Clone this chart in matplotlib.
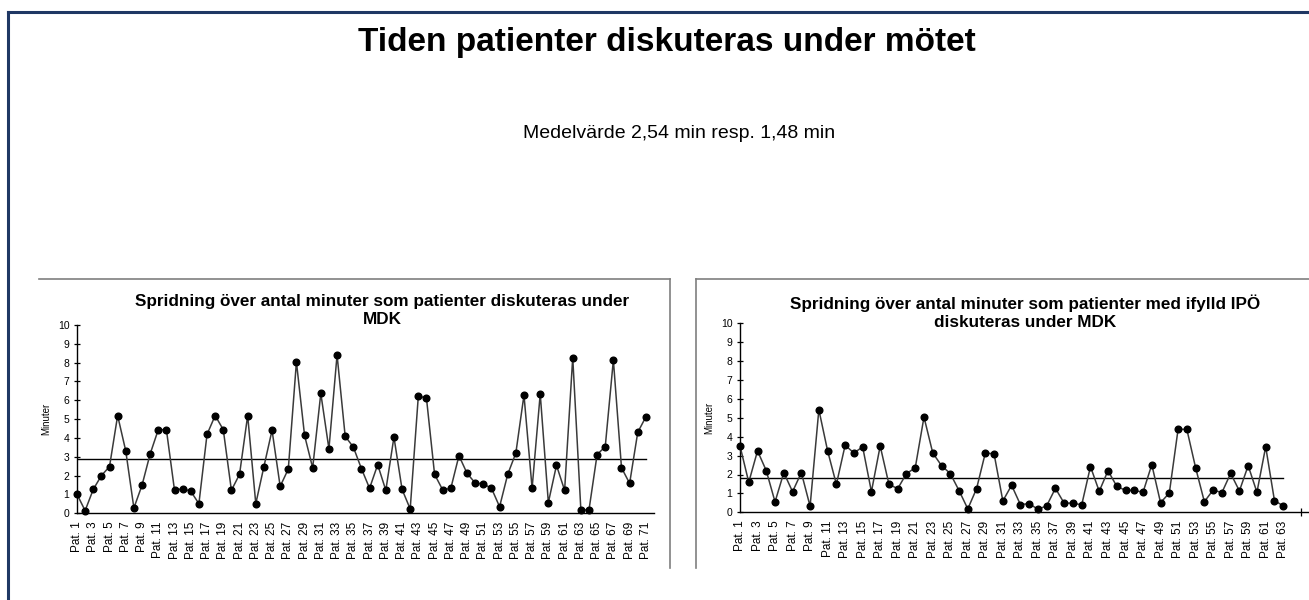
import matplotlib.pyplot as plt
from matplotlib.lines import Line2D

plt.rcParams['font.family'] = ['Liberation Sans', 'DejaVu Sans']

# minutes per patient, all patients (Pat. 1 - Pat. 71)
minutes_all = [1.01, 0.14, 1.27, 2.00, 2.48, 5.19, 3.31, 0.28, 1.49, 3.15,
               4.44, 4.44, 1.22, 1.31, 1.17, 0.51, 4.19, 5.19, 4.44, 1.22,
               2.07, 5.19, 0.51, 2.48, 4.41, 1.43, 2.35, 8.04, 4.14, 2.41,
               6.37, 3.42, 8.41, 4.09, 3.52, 2.37, 1.33, 2.58, 1.22, 4.05,
               1.27, 0.23, 6.23, 6.12, 2.07, 1.24, 1.33, 3.06, 2.12, 1.61,
               1.56, 1.33, 0.35, 2.07, 3.20, 6.28, 1.33, 6.34, 0.57, 2.55,
               1.22, 8.27, 0.18, 0.18, 3.12, 3.54, 8.14, 2.42, 1.59, 4.30,
               5.12]
# minutes per patient with filled-in IPÖ (Pat. 1 - Pat. 63)
minutes_ipo = [3.51, 1.59, 3.25, 2.20, 0.55, 2.10, 1.09, 2.10, 0.32, 5.43,
               3.25, 1.48, 3.55, 3.14, 3.46, 1.09, 3.51, 1.48, 1.25, 2.05,
               2.35, 5.04, 3.14, 2.47, 2.05, 1.15, 0.18, 1.25, 3.14, 3.09,
               0.60, 1.43, 0.41, 0.46, 0.16, 0.34, 1.27, 0.48, 0.49, 0.39,
               2.42, 1.11, 2.20, 1.38, 1.16, 1.16, 1.06, 2.52, 0.51, 1.02,
               4.39, 4.39, 2.36, 0.56, 1.18, 1.04, 2.06, 1.13, 2.47, 1.06,
               3.47, 0.62, 0.34]
mean_all = 2.9
mean_ipo = 1.82

main_title = 'Tiden patienter diskuteras under mötet'
subtitle = 'Medelvärde 2,54 min resp. 1,48 min'
title_all = 'Spridning över antal minuter som patienter diskuteras under\nMDK'
title_ipo = 'Spridning över antal minuter som patienter med ifylld IPÖ\ndiskuteras under MDK'

W, H = 1309, 600
fig = plt.figure(figsize=(W / 100, H / 100), dpi=100)


def px_box(x0, y0, x1, y1):
    # pixel box (top-left origin) -> figure fraction rect
    return [x0 / W, 1 - y1 / H, (x1 - x0) / W, (y1 - y0) / H]


def fig_line(xs, ys, color, lw):
    fig.add_artist(Line2D([x / W for x in xs], [1 - y / H for y in ys],
                          transform=fig.transFigure, color=color, lw=lw))


# outer slide frame
fig_line([8, 1309], [12, 12], '#1f3864', 2.2)
fig_line([8, 8], [12, 600], '#1f3864', 2.2)

# panel frames
fig_line([39, 670], [279, 279], '#7f7f7f', 1.2)
fig_line([670, 670], [279, 568], '#7f7f7f', 1.2)
fig_line([696, 1309], [279, 279], '#7f7f7f', 1.2)
fig_line([696, 696], [279, 568], '#7f7f7f', 1.2)

fig.text(667 / W, 1 - 42 / H, main_title, ha='center', va='center',
         fontsize=24, fontweight='bold')
fig.text(679 / W, 1 - 133 / H, subtitle, ha='center', va='center', fontsize=14)


def draw_chart(rect, values, mean, xmax, tick_pos, title, title_x, ylabel_x):
    ax = fig.add_axes(rect)
    pos = list(range(1, len(values) + 1))
    ax.plot(pos, values, color='#3a3a3a', lw=1.1, marker='o', ms=4.8,
            mfc='black', mec='black', clip_on=False, zorder=3)
    ax.plot([1, len(values)], [mean, mean], color='black', lw=1.0)
    ax.set_xlim(1, xmax)
    ax.set_ylim(0, 10)
    for s in ['top', 'right']:
        ax.spines[s].set_visible(False)
    for s in ['left', 'bottom']:
        ax.spines[s].set_linewidth(1.0)
    ax.set_yticks(range(0, 11))
    ax.tick_params(axis='y', direction='inout', length=5, width=0.9,
                   labelsize=7.5, pad=3)
    # labels on every odd patient, tick marks only where the source has them
    ax.set_xticks(pos[::2])
    ax.set_xticklabels(['Pat. %d' % p for p in pos[::2]], rotation=90)
    ax.tick_params(axis='x', which='major', length=0, labelsize=8.5, pad=6)
    ax.set_xticks(tick_pos, minor=True)
    ax.tick_params(axis='x', which='minor', direction='inout', length=6,
                   width=0.9)
    ax.set_ylabel('Minuter', fontsize=7)
    ax.yaxis.set_label_coords(ylabel_x, 0.5)
    fig.text(title_x / W, 1 - 294 / H, title, ha='center', va='top',
             fontsize=12.3, fontweight='bold', linespacing=1.25)
    return ax


draw_chart(px_box(77, 325, 654, 513.3), minutes_all, mean_all, 72,
           [1, 35, 69], title_all, 382, -0.045)
draw_chart(px_box(740, 323.3, 1309.5, 512.3), minutes_ipo, mean_ipo, 66,
           list(range(1, 66, 2)), title_ipo, 1025, -0.045)

fig.savefig('out.png', dpi=100)
